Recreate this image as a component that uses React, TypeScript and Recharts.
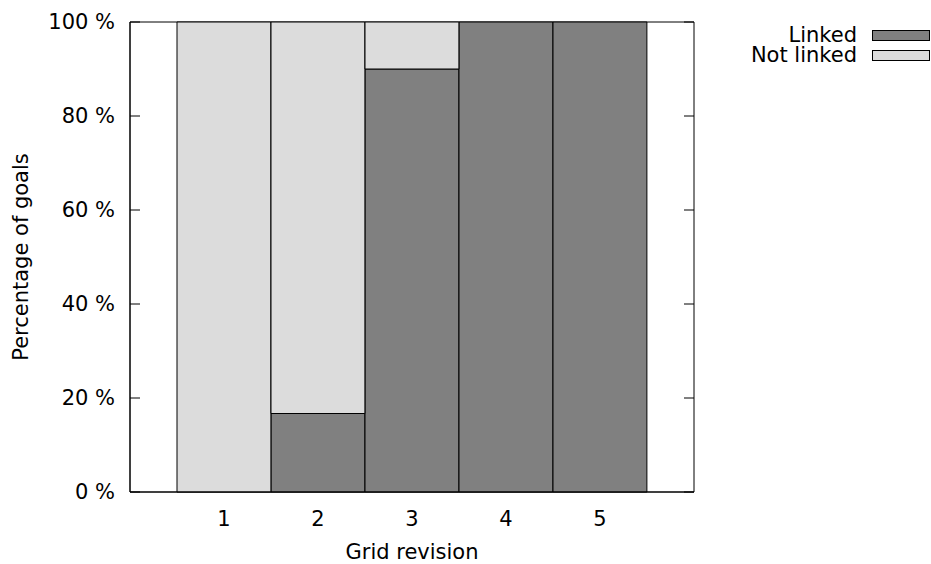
import React from 'react';
import { BarChart, Bar, XAxis, YAxis, ReferenceArea, Legend } from 'recharts';

const revisions = [1, 2, 3, 4, 5];
const linked = [0, 16.7, 90, 100, 100];
const notLinked = [100, 83.3, 10, 0, 0];
const yTicks = [0, 20, 40, 60, 80, 100];
const seriesNames = ['Linked', 'Not linked'];
const seriesColors = ['#808080', '#dcdcdc'];

const data = revisions.map((r, i) => ({ rev: r, linked: linked[i], notLinked: notLinked[i] }));

const W = 931;
const H = 564;
const FONT = 'DejaVu Sans, sans-serif';
const FS = 21;
const PLOT_LEFT = 130;
const PLOT_RIGHT = 694;
const TICK_LEN = 10;
const BAR_W = 93.9;

const YTick = (props: any) => {
  const { x, y, payload } = props;
  return (
    <g>
      <text x={x} y={y} dy="0.35em" textAnchor="end" fontFamily={FONT} fontSize={FS} fill="#000">
        {payload.value} %
      </text>
      <line x1={PLOT_LEFT} x2={PLOT_LEFT + TICK_LEN} y1={y} y2={y} stroke="#000" strokeWidth={1} />
      <line x1={PLOT_RIGHT - TICK_LEN} x2={PLOT_RIGHT} y1={y} y2={y} stroke="#000" strokeWidth={1} />
    </g>
  );
};

const XTick = (props: any) => {
  const { x, y, payload } = props;
  return (
    <text x={x} y={y} dy="0.71em" textAnchor="middle" fontFamily={FONT} fontSize={FS} fill="#000">
      {payload.value}
    </text>
  );
};

const LegendContent = () => (
  <div style={{ fontFamily: FONT, fontSize: FS, color: '#000' }}>
    {seriesNames.map((name, i) => (
      <div
        key={name}
        style={{ display: 'flex', justifyContent: 'flex-end', alignItems: 'center', height: 20, lineHeight: '20px' }}
      >
        <span style={{ display: 'inline-block', height: 20, lineHeight: '20px', overflow: 'visible' }}>{name}</span>
        <span
          style={{
            display: 'inline-block',
            width: 56,
            height: 9,
            marginLeft: 15,
            marginRight: 1,
            background: seriesColors[i],
            border: '1px solid #000',
          }}
        />
      </div>
    ))}
  </div>
);

export default function App() {
  return (
    <div style={{ position: 'absolute', left: 0, top: 0, width: W, height: H }}>
      <BarChart
        width={W}
        height={H}
        data={data}
        barCategoryGap={0}
        barGap={0}
        margin={{ top: 22, right: W - PLOT_RIGHT, bottom: 0, left: 0 }}
      >
        <XAxis
          dataKey="rev"
          type="number"
          domain={[0, 6]}
          ticks={revisions}
          tickLine={false}
          tickSize={0}
          tickMargin={19}
          height={72}
          axisLine={{ stroke: '#000' }}
          tick={<XTick />}
        />
        <YAxis
          type="number"
          domain={[0, 100]}
          ticks={yTicks}
          width={PLOT_LEFT}
          tickLine={false}
          tickSize={0}
          tickMargin={15}
          axisLine={{ stroke: '#000' }}
          tick={<YTick />}
          label={{
            content: (p: any) => {
              const vb = p.viewBox;
              const cx = 28;
              const cy = vb.y + vb.height / 2;
              return (
                <text
                  x={cx}
                  y={cy}
                  transform={`rotate(-90, ${cx}, ${cy})`}
                  textAnchor="middle"
                  fontFamily={FONT}
                  fontSize={FS}
                  fill="#000"
                >
                  Percentage of goals
                </text>
              );
            },
          }}
        />
        <Bar
          dataKey="linked"
          name={seriesNames[0]}
          stackId="a"
          fill={seriesColors[0]}
          stroke="#000"
          strokeWidth={1}
          barSize={BAR_W}
          isAnimationActive={false}
        />
        <Bar
          dataKey="notLinked"
          name={seriesNames[1]}
          stackId="a"
          fill={seriesColors[1]}
          stroke="#000"
          strokeWidth={1}
          barSize={BAR_W}
          isAnimationActive={false}
        />
        <ReferenceArea
          x1={0}
          x2={6}
          y1={0}
          y2={100}
          fill="none"
          fillOpacity={0}
          stroke="#000"
          strokeWidth={1}
          strokeOpacity={1}
        />
        <Legend
          layout="vertical"
          align="center"
          verticalAlign="middle"
          content={<LegendContent />}
          wrapperStyle={{ position: 'absolute', top: 25, left: 700, width: 231, height: 40 }}
        />
      </BarChart>
      <div
        style={{
          position: 'absolute',
          left: PLOT_LEFT,
          width: PLOT_RIGHT - PLOT_LEFT,
          top: 540,
          textAlign: 'center',
          fontFamily: FONT,
          fontSize: FS,
          lineHeight: '24px',
          color: '#000',
        }}
      >
        Grid revision
      </div>
    </div>
  );
}
